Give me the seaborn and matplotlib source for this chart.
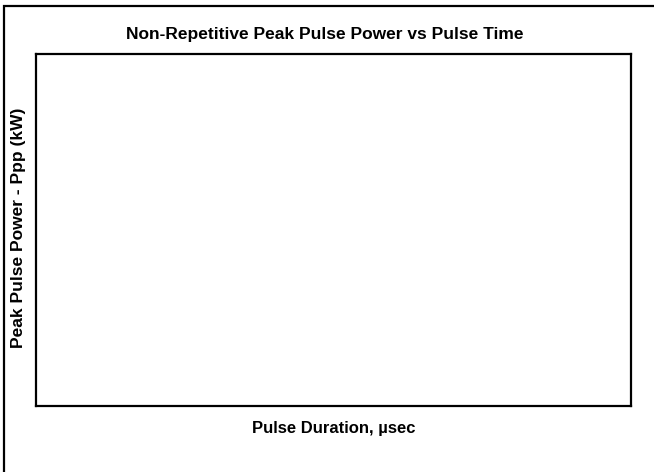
import matplotlib
matplotlib.use("Agg")
import matplotlib.pyplot as plt
import matplotlib.patches as patches
import seaborn as sns
import pandas as pd

# chart text (the reference plot has an empty plot area)
title = "Non-Repetitive Peak Pulse Power vs Pulse Time"
x_label = "Pulse Duration, µsec"
y_label = "Peak Pulse Power - Ppp (kW)"

# no curves are drawn in the reference
pulse_time = []
peak_power = []

sns.set_style("white")
plt.rcParams["font.family"] = ["Liberation Sans", "DejaVu Sans"]
plt.rcParams["text.color"] = "black"

W, H = 654, 472
fig = plt.figure(figsize=(W / 100, H / 100), dpi=100)
ax = fig.add_axes([36 / W, 1 - 406 / H, (631 - 36) / W, (406 - 54) / H])

df = pd.DataFrame({"t": pulse_time, "p": peak_power})
sns.lineplot(data=df, x="t", y="p", ax=ax)

ax.set_xticks([])
ax.set_yticks([])
for s in ax.spines.values():
    s.set_visible(True)
    s.set_color("black")
    s.set_linewidth(1.6)

ax.set_xlabel("")
ax.set_ylabel("")
fig.text(334 / W, 1 - 429 / H, x_label, ha="center", va="center",
         fontsize=12, fontweight="bold", color="black")
fig.text(19 / W, 1 - 228 / H, y_label, ha="center", va="center",
         rotation=90, fontsize=12.5, fontweight="bold", color="black")
fig.text(325 / W, 1 - 35 / H, title, ha="center", va="center",
         fontsize=12.5, fontweight="bold", color="black")

# outer frame, cut off at the right and bottom edges
frame = patches.Rectangle((3.5 / W, -0.1), 1.2, 1.1 - 5.5 / H,
                          transform=fig.transFigure, fill=False,
                          edgecolor="black", linewidth=1.6, clip_on=False)
fig.patches.append(frame)

fig.savefig("out.png", dpi=100)
